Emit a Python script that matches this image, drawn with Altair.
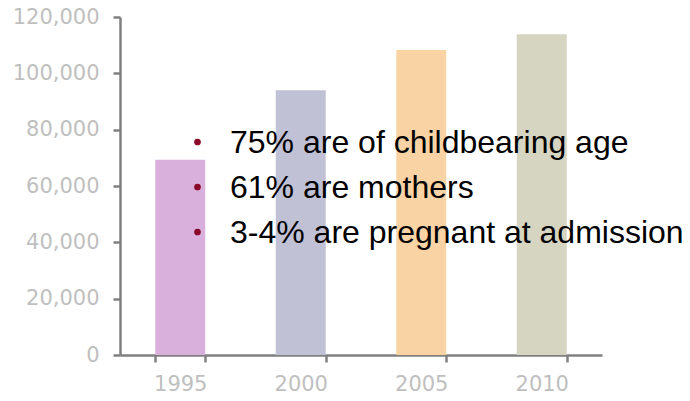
import altair as alt
import pandas as pd

years = ["1995", "2000", "2005", "2010"]
counts = [69300, 94000, 108300, 113900]
bar_colors = ["#D9B0DC", "#C1C1D6", "#FAD3A5", "#D6D5C2"]
y_ticks = [0, 20000, 40000, 60000, 80000, 100000, 120000]
notes = ["75% are of childbearing age", "61% are mothers", "3-4% are pregnant at admission"]

bars_df = pd.DataFrame({"year": years, "count": counts, "color": bar_colors})
notes_df = pd.DataFrame({"line": notes, "row": list(range(len(notes)))})

axis_gray = "#808080"
label_gray = "#BFBFBF"

bars = alt.Chart(bars_df).mark_bar().encode(
    x=alt.X(
        "year:N",
        title=None,
        sort=years,
        scale=alt.Scale(paddingInner=0.585, paddingOuter=0.2925),
        axis=alt.Axis(
            labelAngle=0,
            labelFont="DejaVu Sans",
            labelFontSize=21,
            labelColor=label_gray,
            labelPadding=11,
            domainColor=axis_gray,
            domainWidth=2.5,
            tickColor=axis_gray,
            tickWidth=2.5,
            tickSize=7,
            tickBand="extent",
            grid=False,
        ),
    ),
    y=alt.Y(
        "count:Q",
        title=None,
        scale=alt.Scale(domain=[0, 120000], nice=False),
        axis=alt.Axis(
            values=y_ticks,
            format=",d",
            labelFont="DejaVu Sans",
            labelFontSize=21,
            labelColor=label_gray,
            labelPadding=14,
            domainColor=axis_gray,
            domainWidth=2.5,
            tickColor=axis_gray,
            tickWidth=2.5,
            tickSize=7,
            grid=False,
        ),
    ),
    color=alt.Color("color:N", scale=None, legend=None),
)

text_layer = alt.Chart(notes_df).transform_calculate(
    py="126 + datum.row * 45"
).mark_text(
    align="left",
    baseline="middle",
    font="Liberation Sans",
    fontSize=32,
    color="#000000",
).encode(
    x=alt.value(110),
    y=alt.Y("py:Q", scale=None, axis=None),
    text="line:N",
)

bullet_layer = alt.Chart(notes_df).transform_calculate(
    py="125 + datum.row * 45"
).mark_point(
    filled=True,
    shape="circle",
    size=45,
    color="#8B0A2A",
    opacity=1,
).encode(
    x=alt.value(77.5),
    y=alt.Y("py:Q", scale=None, axis=None),
)

chart = alt.layer(bars, bullet_layer, text_layer).properties(
    width=482,
    height=338,
    background="#FFFFFF",
    autosize=alt.AutoSizeParams(type="none"),
    padding={"left": 120, "top": 17, "right": 88, "bottom": 46},
).configure_view(stroke=None)

chart.save("out.html", embed_options={"renderer": "svg", "actions": False})
